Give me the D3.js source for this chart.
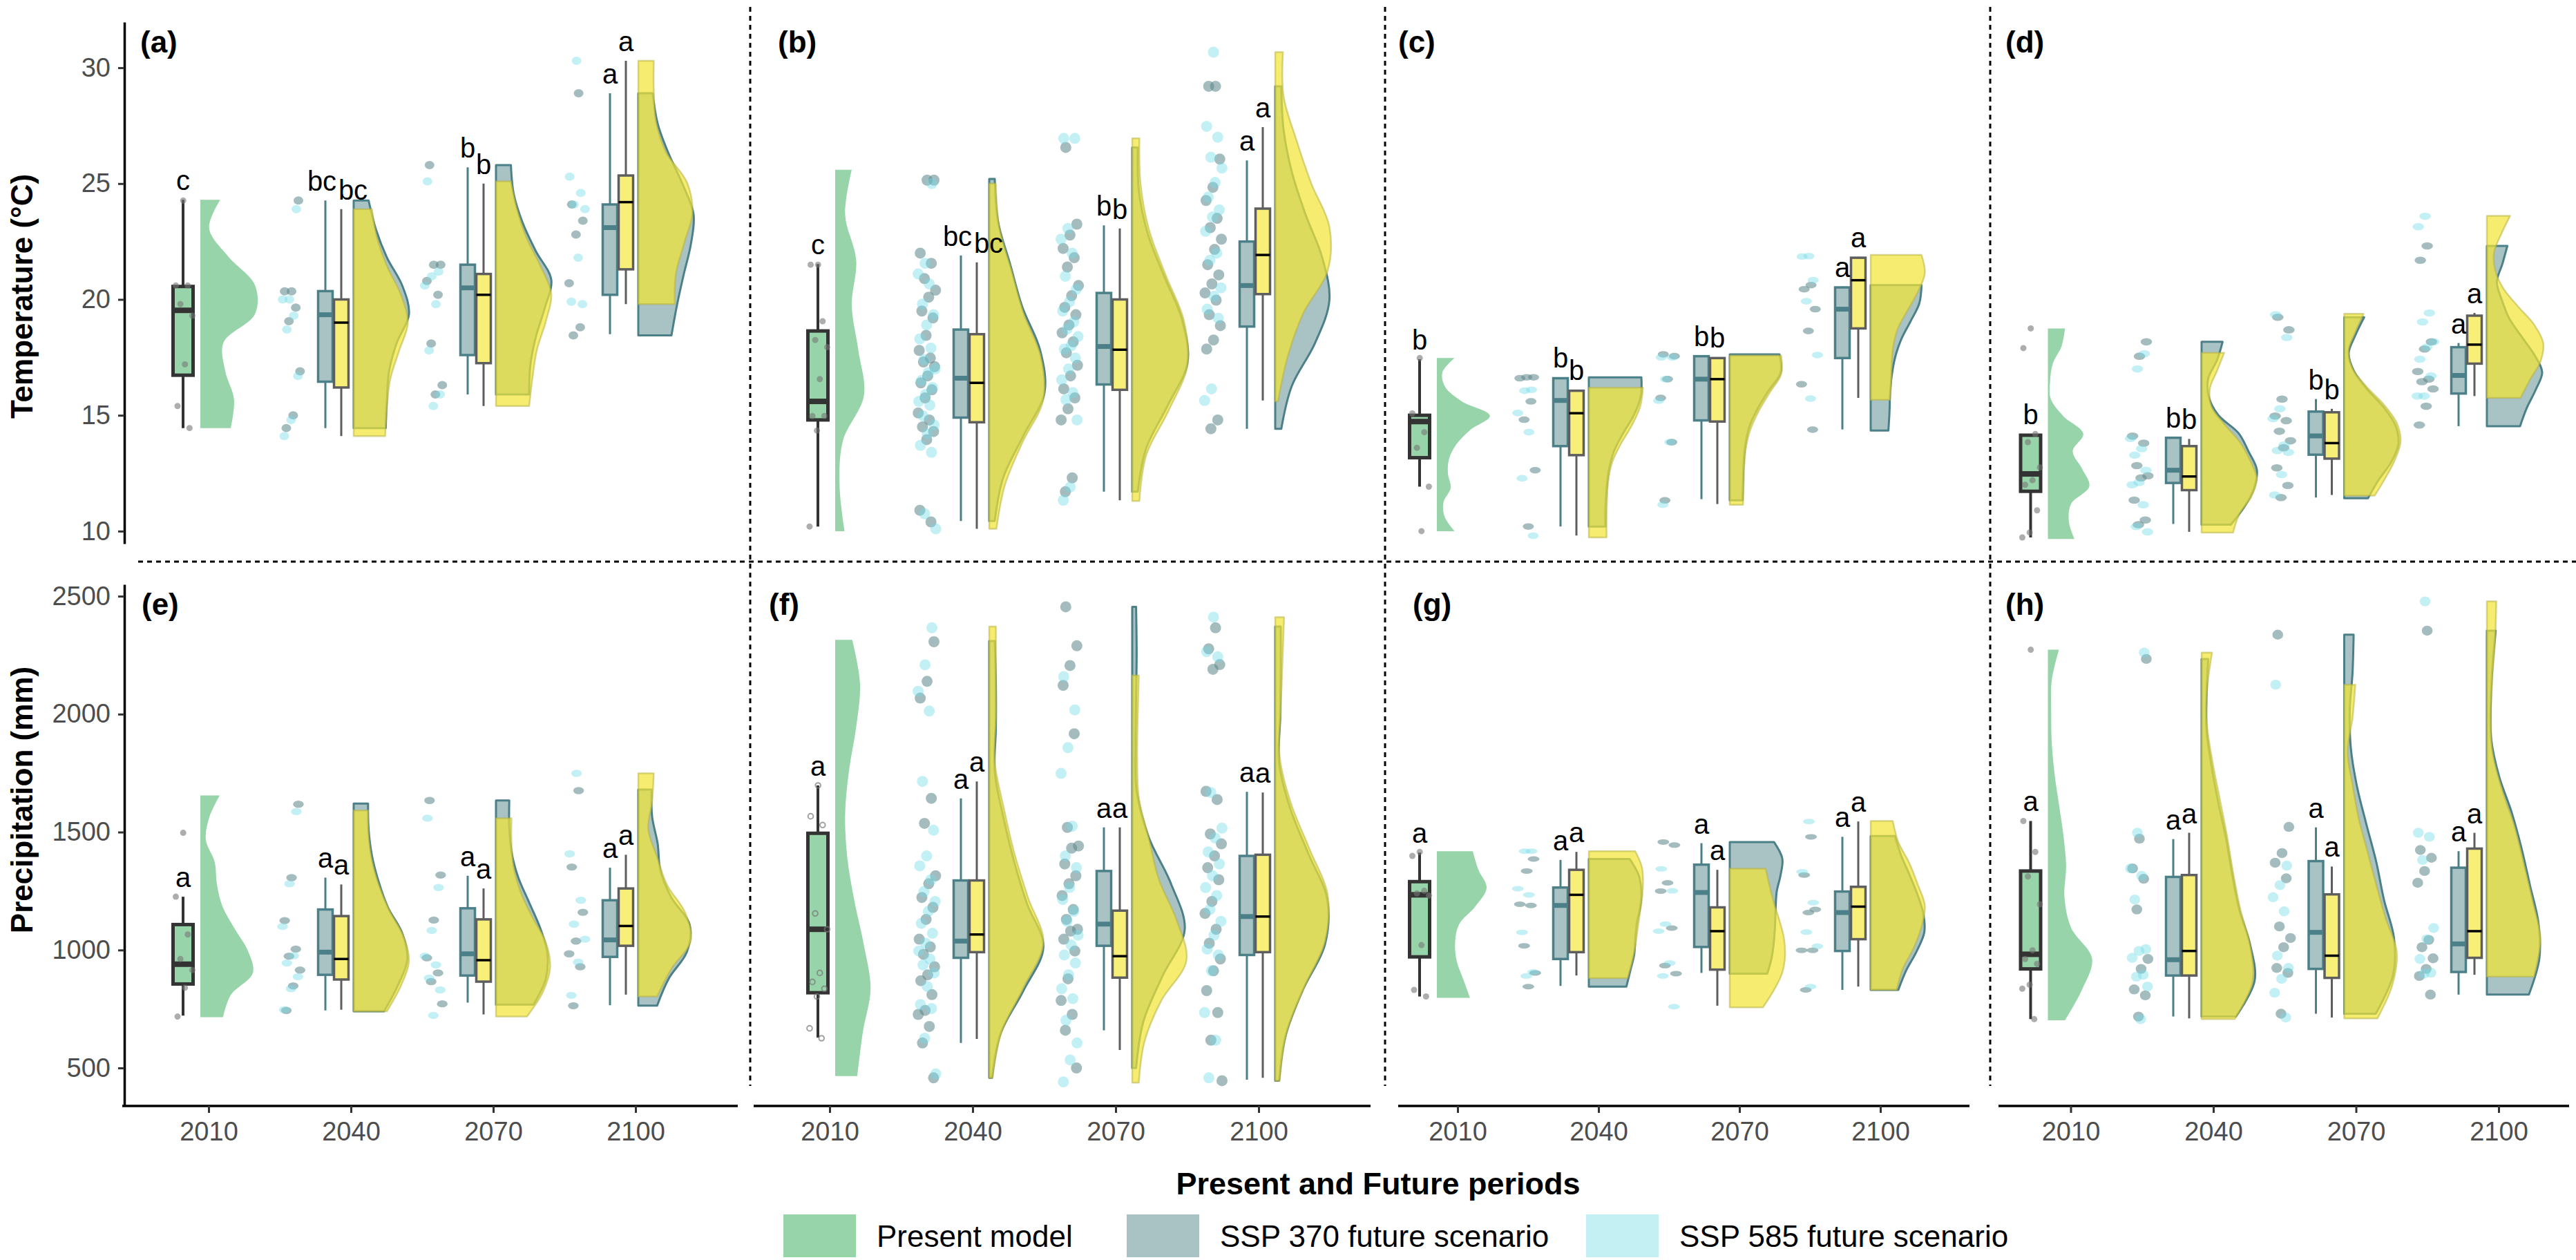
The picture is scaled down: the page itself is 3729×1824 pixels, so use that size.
<!DOCTYPE html>
<html><head><meta charset="utf-8">
<script src="https://cdn.jsdelivr.net/npm/d3@7"></script>
<style>body{margin:0;background:#fff}svg text{font-family:"Liberation Sans",Arial,Helvetica,sans-serif}</style>
</head><body>
<svg id="chart" width="3729" height="1824"></svg>
<script>
// ---------------- DATA ----------------
const periods = [2010, 2040, 2070, 2100];
const panelIds = ['a','b','c','d','e','f','g','h'];
// group order in every panel: present 2010, 2040 SSP370, 2040 SSP585, 2070 SSP370, 2070 SSP585, 2100 SSP370, 2100 SSP585
const groupPeriod = [2010, 2040, 2040, 2070, 2070, 2100, 2100];
const groupKind = ['present','s370','s585','s370','s585','s370','s585'];
const tempTicks = [10, 15, 20, 25, 30];
const precTicks = [500, 1000, 1500, 2000, 2500];
const legendLabels = ['Present model', 'SSP 370 future scenario', 'SSP 585 future scenario'];

// box stats: [lower whisker, q1, median, q3, upper whisker]
const boxA = [[14.45,16.73,19.53,20.56,24.3],[14.45,16.45,19.34,20.36,24.27],[14.1,16.2,19.0,20.0,23.9],[15.9,17.6,20.5,21.5,25.7],[15.4,17.25,20.2,21.1,25.0],[18.5,20.2,23.1,24.1,28.9],[19.8,21.3,24.2,25.35,30.3]];
const boxB = [[10.2,14.8,15.6,18.64,21.53],[10.44,14.9,16.6,18.7,21.9],[10.1,14.7,16.4,18.5,21.6],[11.7,16.33,17.97,20.28,23.2],[11.33,16.1,17.83,20.0,23.06],[14.42,18.83,20.6,22.5,26.0],[15.64,20.23,21.92,23.92,27.44]];
const boxC = [[11.92,13.17,14.73,15.0,17.42],[10.2,13.67,15.64,16.6,16.64],[9.81,13.28,15.09,16.06,16.1],[11.38,14.78,16.56,17.55,17.58],[11.17,14.73,16.56,17.47,17.5],[14.39,17.47,19.58,20.52,20.56],[15.75,18.75,20.83,21.8,21.84]];
const boxD = [[9.73,11.72,12.47,14.14,14.19],[10.31,12.08,12.63,14.03,14.06],[9.97,11.77,12.36,13.67,13.98],[11.45,13.3,14.11,15.16,15.7],[11.56,13.13,13.8,15.13,15.28],[14.53,15.94,16.72,17.94,18.12],[15.83,17.23,18.05,19.3,19.42]];
const boxE = [[722,856,940,1108,1226],[744,895,991,1172,1307],[747,875,962,1144,1278],[777,892,984,1177,1315],[727,866,957,1130,1261],[766,971,1043,1211,1349],[811,1018,1102,1261,1404]];
const boxF = [[629,819,1088,1495,1698],[606,967,1038,1295,1643],[623,991,1066,1295,1715],[660,1018,1110,1335,1520],[576,883,974,1167,1520],[450,979,1142,1399,1671],[458,991,1142,1404,1668]];
const boxG = [[803,971,1234,1290,1413],[848,962,1189,1265,1382],[892,991,1234,1340,1416],[903,1013,1244,1362,1453],[764,917,1080,1181,1340],[831,996,1159,1248,1480],[845,1046,1184,1268,1545]];
const boxH = [[707,920,982,1335,1547],[718,892,959,1310,1470],[710,892,996,1318,1497],[730,920,1075,1377,1520],[714,882,976,1236,1354],[811,907,1026,1349,1419],[895,967,1080,1430,1497]];

// violin: [low end, high end, relative density widths sampled evenly from low to high]
const violinA = [[14.45,24.3,0.55,0.61,0.45,0.42,0.99,0.99,0.51,0.16,0.36],[14.45,24.27,0.58,0.6,0.64,0.78,1.0,0.88,0.6,0.4,0.27],[14.1,23.9,0.57,0.6,0.66,0.82,0.98,0.85,0.6,0.42,0.33],[15.9,25.8,0.6,0.62,0.72,0.88,1.0,0.72,0.48,0.32,0.27],[15.4,25.1,0.6,0.66,0.74,0.9,1.0,0.8,0.55,0.38,0.27],[18.45,28.9,0.6,0.7,0.82,0.95,1.0,0.8,0.55,0.35,0.26],[19.8,30.3,0.66,0.68,0.83,0.98,0.88,0.5,0.32,0.28,0.28]];
const violinB = [[10.0,25.6,0.17,0.08,0.14,0.52,0.42,0.3,0.38,0.18,0.3],[10.44,25.2,0.1,0.25,0.62,1.0,0.92,0.6,0.38,0.16,0.1],[10.1,25.0,0.13,0.28,0.6,0.98,0.93,0.62,0.4,0.18,0.12],[11.7,26.56,0.1,0.25,0.64,1.0,0.9,0.58,0.28,0.12,0.1],[11.3,26.95,0.13,0.25,0.66,1.0,0.93,0.6,0.3,0.15,0.13],[14.42,29.2,0.11,0.3,0.72,0.98,0.85,0.55,0.3,0.15,0.11],[15.6,30.67,0.05,0.22,0.5,0.95,0.98,0.65,0.38,0.15,0.14]];
const violinC = [[10.0,17.47,0.32,0.14,0.12,0.25,0.2,0.22,0.35,0.6,0.96,0.45,0.15,0.1,0.32],[10.2,16.64,0.3,0.3,0.32,0.36,0.45,0.62,0.82,0.94,0.95],[9.73,16.19,0.32,0.32,0.33,0.35,0.42,0.58,0.78,0.93,0.98],[11.33,17.63,0.23,0.24,0.25,0.28,0.35,0.5,0.7,0.92,0.9],[11.14,17.58,0.24,0.25,0.26,0.29,0.37,0.52,0.72,0.93,0.93],[14.34,20.62,0.32,0.34,0.35,0.38,0.44,0.55,0.72,0.88,0.92],[15.67,21.92,0.35,0.37,0.38,0.41,0.5,0.68,0.86,0.98,0.92]];
const violinD = [[9.66,18.75,0.48,0.38,0.42,0.75,0.62,0.45,0.64,0.28,0.05,0.04,0.09,0.25,0.31],[10.28,18.17,0.53,0.78,0.95,1.0,0.85,0.67,0.3,0.13,0.12,0.28,0.38],[9.94,17.7,0.57,0.68,0.9,1.0,0.88,0.7,0.42,0.18,0.15,0.28,0.41],[11.42,19.23,0.43,0.62,0.85,0.98,0.93,0.72,0.42,0.18,0.08,0.2,0.36],[11.53,19.38,0.55,0.75,0.92,1.02,0.95,0.72,0.4,0.15,0.08,0.2,0.35],[14.53,22.31,0.6,0.72,0.88,1.0,0.85,0.62,0.4,0.27,0.18,0.28,0.37],[15.75,23.61,0.61,0.78,0.97,1.02,0.86,0.57,0.3,0.15,0.13,0.26,0.42]];
const violinE = [[715,1655,0.41,0.55,0.95,0.86,0.62,0.4,0.3,0.26,0.1,0.16,0.35],[740,1621,0.55,0.8,0.97,0.88,0.62,0.45,0.33,0.27,0.26],[740,1592,0.6,0.85,1.0,0.9,0.65,0.46,0.33,0.27,0.26],[769,1634,0.68,0.9,0.93,0.8,0.6,0.4,0.28,0.24,0.24],[718,1559,0.56,0.85,0.98,0.9,0.66,0.45,0.32,0.28,0.28],[764,1680,0.34,0.55,0.88,0.93,0.6,0.4,0.35,0.25,0.24],[803,1749,0.34,0.6,0.95,0.85,0.52,0.34,0.18,0.25,0.28]];
const violinF = [[466,2315,0.4,0.5,0.64,0.52,0.35,0.22,0.18,0.25,0.38,0.45,0.31],[458,2310,0.05,0.2,0.62,0.98,0.68,0.44,0.25,0.1,0.12,0.12,0.1],[458,2371,0.06,0.22,0.62,0.98,0.7,0.45,0.26,0.1,0.12,0.12,0.12],[500,2455,0.07,0.2,0.55,0.95,0.7,0.3,0.08,0.06,0.07,0.08,0.07],[438,2164,0.12,0.22,0.52,0.98,0.8,0.48,0.3,0.12,0.09,0.1,0.12],[446,2371,0.07,0.19,0.5,0.9,0.94,0.6,0.27,0.07,0.09,0.1,0.1],[446,2411,0.08,0.2,0.52,0.9,0.95,0.62,0.28,0.08,0.1,0.13,0.16]];
const violinG = [[797,1419,0.6,0.48,0.36,0.33,0.4,0.7,0.9,0.75,0.65],[845,1386,0.68,0.75,0.82,0.84,0.87,0.93,0.95,0.9,0.74],[881,1419,0.7,0.78,0.84,0.88,0.92,0.96,0.98,0.96,0.84],[900,1458,0.68,0.76,0.8,0.82,0.83,0.85,0.92,0.95,0.8],[757,1345,0.6,0.8,0.95,1.0,0.98,0.9,0.8,0.72,0.65],[831,1483,0.5,0.64,0.83,0.97,0.95,0.84,0.7,0.55,0.44],[831,1547,0.47,0.58,0.78,0.92,0.98,0.85,0.7,0.5,0.4]];
const violinH = [[702,2273,0.31,0.62,0.8,0.42,0.3,0.33,0.28,0.2,0.12,0.07,0.06,0.07,0.2],[718,2234,0.62,0.96,0.88,0.68,0.55,0.44,0.3,0.18,0.09,0.09,0.12],[707,2261,0.6,0.92,0.88,0.7,0.57,0.46,0.33,0.2,0.1,0.1,0.19],[730,2337,0.57,0.88,0.9,0.72,0.58,0.4,0.23,0.12,0.1,0.15,0.17],[710,2125,0.6,0.87,0.95,0.75,0.58,0.42,0.26,0.15,0.06,0.15,0.2],[811,2354,0.76,0.95,0.93,0.78,0.63,0.45,0.22,0.08,0.07,0.1,0.16],[887,2478,0.85,0.97,0.83,0.67,0.5,0.27,0.1,0.07,0.1,0.15,0.17]];

// raw observations (jittered points)
const pointsA = [[24.27,20.6,20.6,19.8,19.3,17.2,15.4,14.45],[24.27,20.35,20.35,19.65,19.06,16.9,15.0,14.45],[23.9,20.0,20.0,19.3,18.7,16.7,14.8,14.1],[25.8,21.5,21.5,20.8,20.2,18.1,16.3,15.9],[25.1,21.2,21.0,20.6,19.8,17.8,15.9,15.4],[28.9,24.1,23.4,22.8,20.7,18.8,18.45],[30.3,25.3,24.6,24.1,23.9,21.8,19.9,19.8]];
const pointsB = [[21.5,21.5,19.06,18.25,17.94,16.56,14.97,14.97,14.34,10.2],
 [25.15,25.15,22.0,21.56,20.9,20.4,20.1,19.5,19.2,18.45,17.8,17.47,17.3,17.1,16.7,16.4,16.1,15.75,15.1,14.8,14.5,14.3,13.95,10.9,10.4],
 [25.0,21.56,21.1,20.67,19.8,19.34,18.9,18.3,17.9,17.4,17.0,16.84,16.5,16.2,15.9,15.6,15.44,14.97,14.58,14.2,13.7,13.4,10.75,10.1],
 [26.56,23.25,22.78,22.2,21.8,21.4,20.6,20.16,19.66,19.34,18.9,18.56,18.17,17.7,17.16,16.7,16.14,15.75,15.28,14.8,12.3,11.7],
 [26.95,26.95,23.06,22.6,22.0,21.0,20.44,19.9,19.5,19.03,18.72,18.4,18.0,17.86,17.47,17.0,16.53,15.98,15.67,14.8,11.9,11.33],
 [29.2,29.2,26.06,24.84,24.27,23.5,23.1,22.6,22.16,21.5,21.06,20.67,20.28,19.97,19.34,18.87,18.25,17.86,14.8,14.42],
 [30.67,27.47,27.0,26.14,25.67,25.05,24.42,23.87,23.56,22.94,22.0,21.69,20.5,20.13,19.58,19.19,16.14,15.64]];
const pointsC = [[17.47,15.08,14.27,13.6,11.92,10.0],[16.64,16.64,16.6,15.6,14.81,12.63,10.2],[16.1,16.06,15.1,14.27,12.28,9.8],[17.63,17.55,16.56,15.75,13.84,11.33],[17.5,17.5,16.56,15.63,13.84,11.14],[20.62,20.44,19.58,18.64,16.34,14.38],[21.87,21.85,20.83,19.92,17.6,15.72]];
const pointsD = [[18.75,17.9,14.19,13.84,12.75,12.2,12.0,10.9,9.94,9.73],[18.17,17.55,14.1,13.8,12.83,12.39,12.3,11.34,10.48,10.28],[17.66,17.0,14.0,13.56,13.28,12.63,12.1,12.0,11.14,10.2,9.97],[19.23,18.69,15.7,14.97,14.77,14.31,13.9,13.6,12.73,11.97,11.45],[19.34,18.36,15.28,14.86,13.72,13.48,13.4,12.44,11.56],[22.31,21.69,18.17,17.86,16.89,16.56,16.45,16.14,15.39,14.58],[23.59,23.14,19.42,19.03,18.17,17.94,17.42,16.7,15.83,15.83]];
const pointsE = [[1497,1226,1066,962,915,840,718],[1618,1307,1125,1004,974,915,848,744],[1587,1281,1100,976,945,887,836,747],[1634,1318,1127,967,903,866,772],[1559,1265,1083,974,937,881,831,723],[1676,1352,1160,1038,984,929,764],[1749,1408,1211,1110,1046,949,808]];
const pointsF = [[1698,1567,1530,1155,1088,903,865,836,803,668,626],
 [2307,2139,2068,1643,1537,1315,1281,1223,1181,1130,1046,1013,982,929,895,870,811,744,727,676,606,458],
 [2366,2209,2097,2013,1715,1508,1399,1357,1298,1248,1206,1164,1113,1071,1029,996,962,937,903,845,769,752,626,475],
 [2455,2290,2206,2122,1917,1520,1441,1432,1365,1315,1281,1231,1172,1130,1088,1080,1046,996,878,786,727,660,500],
 [2159,2018,1858,1749,1525,1399,1349,1265,1214,1164,1122,1063,1021,979,945,895,836,794,702,606,534,441],
 [2366,2277,2210,2190,1673,1638,1492,1450,1399,1349,1298,1206,1155,1088,1029,962,912,828,735,618,446],
 [2411,2265,2243,1668,1517,1475,1416,1365,1315,1265,1231,1172,1122,1063,1004,979,912,735,618,458]];
const pointsG = [[1416,1399,1251,1240,1231,1021,831,803],[1386,1335,1194,1189,1018,903,845],[1419,1419,1260,1234,1075,907,890],[1458,1445,1285,1250,1093,934,900],[1344,1251,1110,1080,945,890,760],[1480,1318,1172,1159,999,999,831],[1545,1332,1201,1076,1016,845]];
const pointsH = [[2273,1547,1416,1312,1194,999,962,941,853,836,707],[2234,1472,1346,1302,1172,962,920,833,808,718],[2261,1497,1346,1315,1214,1004,996,967,895,887,845,707],[2337,1522,1411,1370,1304,1100,1051,1012,924,903,730],[2125,1358,1275,1224,1164,976,924,878,819,714],[2354,1424,1391,1335,1285,1043,1012,965,920,890,811],[2478,1497,1480,1382,1093,1046,962,904,900]];

// significance letters
const lettersA = ['c','bc','bc','b','b','a','a'];
const lettersB = ['c','bc','bc','b','b','a','a'];
const lettersC = ['b','b','b','b','b','a','a'];
const lettersD = ['b','b','b','b','b','a','a'];
const lettersE = ['a','a','a','a','a','a','a'];
const lettersF = ['a','a','a','a','a','a','a'];
const lettersG = ['a','a','a','a','a','a','a'];
const lettersH = ['a','a','a','a','a','a','a'];

// ---------------- table built from arrays ----------------
const table = {
  a:{box:boxA, vio:violinA, pts:pointsA, let:lettersA}, b:{box:boxB, vio:violinB, pts:pointsB, let:lettersB},
  c:{box:boxC, vio:violinC, pts:pointsC, let:lettersC}, d:{box:boxD, vio:violinD, pts:pointsD, let:lettersD},
  e:{box:boxE, vio:violinE, pts:pointsE, let:lettersE}, f:{box:boxF, vio:violinF, pts:pointsF, let:lettersF},
  g:{box:boxG, vio:violinG, pts:pointsG, let:lettersG}, h:{box:boxH, vio:violinH, pts:pointsH, let:lettersH}
};

// ---------------- LAYOUT ----------------
const W = 3729, H = 1824;
const colX = [[512, 924], [1432, 1846], [2300, 2708], [3187, 3600]];
const tickShift = [-4, -24, 14, 17];
const axisSpan = [[177,1068],[1091,1984],[2024,2851],[2893,3719]];
const rowDom = [[9.46, 31.97], [339, 2550]];
const rowRange = [[787, 32], [1601, 846]];
const labelPos = [[203,76],[1126,76],[2024,76],[2903,76],[205,890],[1113,890],[2045,890],[2903,890]];
const ptSize = [[7,6],[8,8],[8,4.8],[8.3,5.3],[7.7,5.2],[8,8],[8.5,4],[7.8,7.2]];
const hollowPresent = ['f'];
const VW = 80;
const FONT = '"Liberation Sans", Arial, Helvetica, sans-serif';

const col = {
  green: '#98d4a9', tealFill: '#a9c2c4', tealLine: '#4b8088', yellow: '#f2e633',
  yellowBox: '#f7ef78', greyLine: '#5e5e5e', dark: '#333333',
  ptGrey: '#5b8589', ptCyan: '#6fdbe6', ptPresent: '#777777'
};

const svg = d3.select('#chart');
svg.append('rect').attr('width', W).attr('height', H).attr('fill', '#fff');

// dashed separators
const sep = svg.append('g').attr('stroke', '#000').attr('stroke-width', 3).attr('stroke-dasharray', '7,6');
sep.append('line').attr('x1', 200).attr('x2', W).attr('y1', 813).attr('y2', 813);
[1086, 2005, 2881].forEach(xv => sep.append('line').attr('x1', xv).attr('x2', xv).attr('y1', 10).attr('y2', 1572));

function jit(i, k) { return ((i * 0.6180339887 + k * 0.377 + 0.13) % 1) * 2 - 1; }

function violin(g, v, base, y, fill, stroke, opts) {
  const lo = v[0], hi = v[1], d = v.slice(2), n = d.length;
  const pts = d.map((w, k) => ({val: lo + (hi - lo) * k / (n - 1), w}));
  const area = d3.area().curve(d3.curveCatmullRom.alpha(0.5))
    .y(q => y(q.val)).x0(base).x1(q => base + Math.max(0.02, q.w) * VW);
  const p = g.append('path').attr('d', area(pts)).attr('fill', fill);
  if (opts.fillOpacity) p.attr('fill-opacity', opts.fillOpacity);
  if (stroke) p.attr('stroke', stroke).attr('stroke-width', opts.sw || 3).attr('stroke-linejoin', 'round');
  if (opts.strokeOpacity) p.attr('stroke-opacity', opts.strokeOpacity);
}

function boxplot(g, s, cx, bw, y, st) {
  g.append('line').attr('x1', cx).attr('x2', cx).attr('y1', y(s[0])).attr('y2', y(s[4]))
    .attr('stroke', st.wh).attr('stroke-width', st.whw);
  g.append('rect').attr('x', cx - bw / 2).attr('width', bw).attr('y', y(s[3])).attr('height', y(s[1]) - y(s[3]))
    .attr('fill', st.fill).attr('stroke', st.stroke).attr('stroke-width', st.sw);
  g.append('line').attr('x1', cx - bw / 2).attr('x2', cx + bw / 2).attr('y1', y(s[2])).attr('y2', y(s[2]))
    .attr('stroke', st.med).attr('stroke-width', st.medw);
}

const boxStyle = {
  present: {fill: col.green, stroke: col.dark, sw: 5, med: col.dark, medw: 8, wh: col.dark, whw: 4},
  s370: {fill: col.tealFill, stroke: col.tealLine, sw: 3.5, med: col.tealLine, medw: 7, wh: col.tealLine, whw: 3},
  s585: {fill: col.yellowBox, stroke: col.greyLine, sw: 3.5, med: '#000', medw: 3.5, wh: col.greyLine, whw: 3}
};

panelIds.forEach((pid, i) => {
  const c = i % 4, r = Math.floor(i / 4);
  const T = table[pid];
  const x = d3.scaleLinear().domain([2040, 2100]).range(colX[c]);
  const y = d3.scaleLinear().domain(rowDom[r]).range(rowRange[r]);
  const g = svg.append('g');
  const [rx, ry] = ptSize[i];

  function letter(k, cx) {
    g.append('text').attr('x', cx).attr('y', y(T.box[k][4]) - 14).attr('text-anchor', 'middle')
      .attr('font-size', 40).attr('fill', '#000').text(T.let[k]);
  }

  // present group
  const base0 = x(2010) - 16, bx0 = x(2010) - 41;
  violin(g, T.vio[0], base0, y, col.green, null, {});
  boxplot(g, T.box[0], bx0, 29, y, boxStyle.present);
  const hollow = hollowPresent.includes(pid);
  T.pts[0].forEach((v, j) => {
    const cp = g.append('circle').attr('cx', bx0 + jit(j, 1) * 14).attr('cy', y(v)).attr('r', hollow ? 3.8 : 4.5);
    if (hollow) cp.attr('fill', 'none').attr('stroke', col.ptPresent).attr('stroke-opacity', 0.7).attr('stroke-width', 2);
    else cp.attr('fill', col.ptPresent).attr('fill-opacity', 0.6);
  });
  letter(0, bx0);

  // future groups
  [2040, 2070, 2100].forEach((per, pi) => {
    const k370 = 1 + pi * 2, k585 = 2 + pi * 2;
    const base = x(per);
    const pc = base - 90;
    T.pts[k370].forEach((v, j) => g.append('ellipse').attr('cx', pc + jit(j, 2 + pi) * 13).attr('cy', y(v))
      .attr('rx', rx).attr('ry', ry).attr('fill', col.ptGrey).attr('fill-opacity', 0.55));
    T.pts[k585].forEach((v, j) => g.append('ellipse').attr('cx', pc + jit(j, 7 + pi) * 13).attr('cy', y(v))
      .attr('rx', rx).attr('ry', ry).attr('fill', col.ptCyan).attr('fill-opacity', 0.42));
    violin(g, T.vio[k370], base, y, col.tealFill, col.tealLine, {sw: 3});
    violin(g, T.vio[k585], base, y, col.yellow, '#b8b244', {fillOpacity: 0.7, strokeOpacity: 0.55, sw: 2.5});
    boxplot(g, T.box[k370], base - 41, 21, y, boxStyle.s370);
    boxplot(g, T.box[k585], base - 18, 21, y, boxStyle.s585);
    const wide = T.let[k370].length > 1 || T.let[k585].length > 1;
    letter(k370, base - 41 - (wide ? 5 : 0));
    letter(k585, base - 18 + (wide ? 17 : 0));
  });

  // panel label
  g.append('text').attr('x', labelPos[i][0]).attr('y', labelPos[i][1]).attr('font-size', 44)
    .attr('font-weight', 'bold').attr('fill', '#000').text('(' + pid + ')');

  // y axis for first column
  if (c === 0) {
    const ax = svg.append('g').attr('transform', 'translate(180,0)')
      .call(d3.axisLeft(y).tickValues(r === 0 ? tempTicks : precTicks).tickFormat(d3.format('d'))
        .tickSize(9).tickSizeOuter(0).tickPadding(11));
    ax.select('.domain').attr('stroke', '#000').attr('stroke-width', 3.5);
    ax.selectAll('.tick line').attr('stroke', '#333').attr('stroke-width', 3);
    ax.selectAll('.tick text').attr('font-size', 38).attr('fill', '#4d4d4d').attr('font-family', FONT);
  }
  // x axis for bottom row
  if (r === 1) {
    svg.append('line').attr('x1', axisSpan[c][0]).attr('x2', axisSpan[c][1]).attr('y1', 1601).attr('y2', 1601)
      .attr('stroke', '#000').attr('stroke-width', 3.5);
    const xa = svg.append('g').attr('transform', `translate(${tickShift[c]},1601)`)
      .call(d3.axisBottom(x).tickValues(periods).tickFormat(d3.format('d')).tickSize(10).tickPadding(13));
    xa.select('.domain').remove();
    xa.selectAll('.tick line').attr('stroke', '#333').attr('stroke-width', 3);
    xa.selectAll('.tick text').attr('font-size', 38).attr('fill', '#4d4d4d').attr('font-family', FONT);
  }
});

// axis titles
svg.append('text').attr('transform', 'translate(47,429) rotate(-90)').attr('text-anchor', 'middle')
  .attr('font-size', 44).attr('font-weight', 'bold').text('Temperature (°C)');
svg.append('text').attr('transform', 'translate(47,1158) rotate(-90)').attr('text-anchor', 'middle')
  .attr('font-size', 44).attr('font-weight', 'bold').text('Precipitation (mm)');
svg.append('text').attr('x', 1995).attr('y', 1729).attr('text-anchor', 'middle')
  .attr('font-size', 45).attr('font-weight', 'bold').text('Present and Future periods');

// legend
const legSw = [1134, 1631, 2296];
const legCol = [col.green, col.tealFill, '#c5f0f3'];
legendLabels.forEach((lab, k) => {
  svg.append('rect').attr('x', legSw[k]).attr('y', 1758).attr('width', 105).attr('height', 62).attr('fill', legCol[k]);
  svg.append('text').attr('x', legSw[k] + 135).attr('y', 1805).attr('font-size', 44).attr('fill', '#000').text(lab);
});
</script>
</body></html>
